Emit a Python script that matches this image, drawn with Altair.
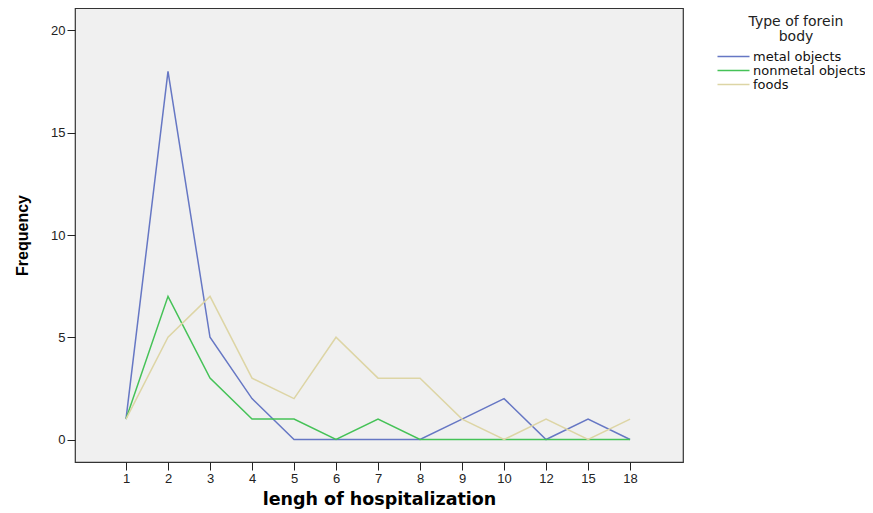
import altair as alt
import pandas as pd

days = ["1", "2", "3", "4", "5", "6", "7", "8", "9", "10", "12", "15", "18"]
metal = [1, 18, 5, 2, 0, 0, 0, 0, 1, 2, 0, 1, 0]
nonmetal = [1, 7, 3, 1, 1, 0, 1, 0, 0, 0, 0, 0, 0]
foods = [1, 5, 7, 3, 2, 5, 3, 3, 1, 0, 1, 0, 1]
series = ["metal objects", "nonmetal objects", "foods"]
colors = ["#6677c4", "#45c257", "#ddd5a5"]

rows = []
for name, vals in zip(series, [metal, nonmetal, foods]):
    for i, (d, v) in enumerate(zip(days, vals)):
        rows.append({"idx": i, "day": d, "freq": v, "type": name})
df = pd.DataFrame(rows)

label_expr = "[" + ",".join("'%s'" % d for d in days) + "][datum.value]"

chart = alt.Chart(df).mark_line(strokeWidth=1.5).encode(
    x=alt.X("idx:Q",
            scale=alt.Scale(domain=[-1.214, 13.26], nice=False, zero=False),
            axis=alt.Axis(title="lengh of hospitalization", values=list(range(len(days))),
                          labelExpr=label_expr, labelAngle=0, grid=False,
                          labelFont="Liberation Sans", labelFontSize=13, labelColor="#222",
                          tickColor="#222", tickSize=8, domain=False,
                          titleFont="DejaVu Sans", titleFontSize=17.5, titleFontWeight="bold",
                          titleColor="#000", titlePadding=5, labelPadding=2)),
    y=alt.Y("freq:Q",
            scale=alt.Scale(domain=[-1.1, 21.1], nice=False, zero=False),
            axis=alt.Axis(title="Frequency", values=[0, 5, 10, 15, 20], grid=False,
                          labelFont="Liberation Sans", labelFontSize=13, labelColor="#222",
                          tickColor="#222", tickSize=8, domain=False,
                          titleFont="Liberation Sans", titleFontSize=16, titleFontWeight="bold",
                          titleColor="#000", titlePadding=20)),
    color=alt.Color("type:N", sort=series,
                    scale=alt.Scale(domain=series, range=colors),
                    legend=alt.Legend(title=["Type of forein", "body"], orient="none",
                                      legendX=652, legendY=7,
                                      titleFont="DejaVu Sans", titleFontSize=14,
                                      titleFontWeight="normal", titleColor="#222",
                                      titleAnchor="middle", titleAlign="center",
                                      titleLineHeight=15, titlePadding=6,
                                      labelFont="DejaVu Sans", labelFontSize=13,
                                      labelColor="#111", labelOffset=13,
                                      symbolType="M-4,0H4", symbolSize=64,
                                      symbolStrokeWidth=1.5, rowPadding=0)),
).properties(
    width=608, height=454,
    autosize=alt.AutoSizeParams(type="none"),
    padding={"left": 67, "top": 0, "right": 182, "bottom": 50},
    background="white",
).configure_view(
    fill="#f0f0f0", stroke="#333", strokeWidth=1.2
)

chart.save("out.html", embed_options={"renderer": "svg", "actions": False})
